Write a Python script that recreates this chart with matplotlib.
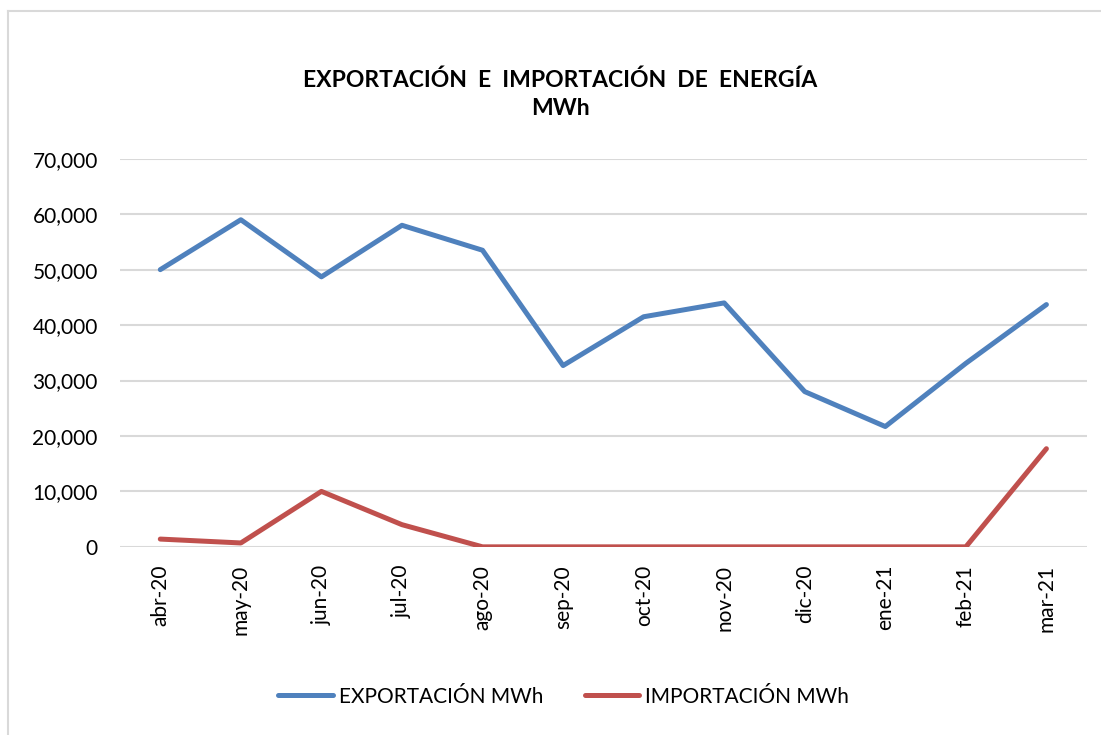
import matplotlib.pyplot as plt
from matplotlib.lines import Line2D
from matplotlib.ticker import FuncFormatter

plt.rcParams['font.family'] = ['Lato', 'DejaVu Sans']

meses = ['abr-20', 'may-20', 'jun-20', 'jul-20', 'ago-20', 'sep-20',
         'oct-20', 'nov-20', 'dic-20', 'ene-21', 'feb-21', 'mar-21']
exportacion = [50000, 59000, 48700, 58000, 53500, 32700,
               41500, 44000, 28000, 21700, 33100, 43700]
importacion = [1400, 700, 10000, 4000, 0, 0,
               0, 0, 0, 0, 0, 17700]

fig = plt.figure(figsize=(11.01, 7.35), dpi=100)
ax = fig.add_axes([0.109, 0.256, 0.878, 0.528])

x = range(len(meses))
ax.plot(x, exportacion, color='#4F81BD', lw=3.6, solid_capstyle='round',
        label='EXPORTACIÓN MWh', zorder=3)
ax.plot(x, importacion, color='#C0504D', lw=3.6, solid_capstyle='round',
        label='IMPORTACIÓN MWh', zorder=3)

ax.set_xlim(-0.5, len(meses) - 0.5)
ax.set_ylim(0, 70000)
ax.set_yticks(range(0, 70001, 10000))
ax.yaxis.set_major_formatter(FuncFormatter(lambda v, p: f'{int(v):,}'))
ax.set_xticks(list(x))
ax.set_xticklabels(meses, rotation=90)
ax.tick_params(axis='both', length=0, labelsize=15, colors='black')
ax.tick_params(axis='y', pad=16)
ax.tick_params(axis='x', pad=13)
ax.grid(axis='y', color='#D9D9D9', lw=1.5)
ax.set_axisbelow(True)
for s in ax.spines.values():
    s.set_visible(False)

fig.text(0.509, 0.872, 'EXPORTACIÓN  E  IMPORTACIÓN  DE  ENERGÍA\nMWh',
         ha='center', va='center', fontsize=16.5, fontweight='bold',
         linespacing=1.4)

fig.legend(loc='center', bbox_to_anchor=(0.512, 0.052), ncol=2, frameon=False,
           fontsize=15, handlelength=2.6, columnspacing=2.0, handletextpad=0.3)

# borde del área del gráfico
fig.add_artist(Line2D([8 / 1101, 8 / 1101], [0, 1 - 11 / 735],
                      transform=fig.transFigure, color='#D9D9D9', lw=1.5))
fig.add_artist(Line2D([8 / 1101, 1], [1 - 11 / 735, 1 - 11 / 735],
                      transform=fig.transFigure, color='#D9D9D9', lw=1.5))

fig.savefig('out.png', dpi=100)
